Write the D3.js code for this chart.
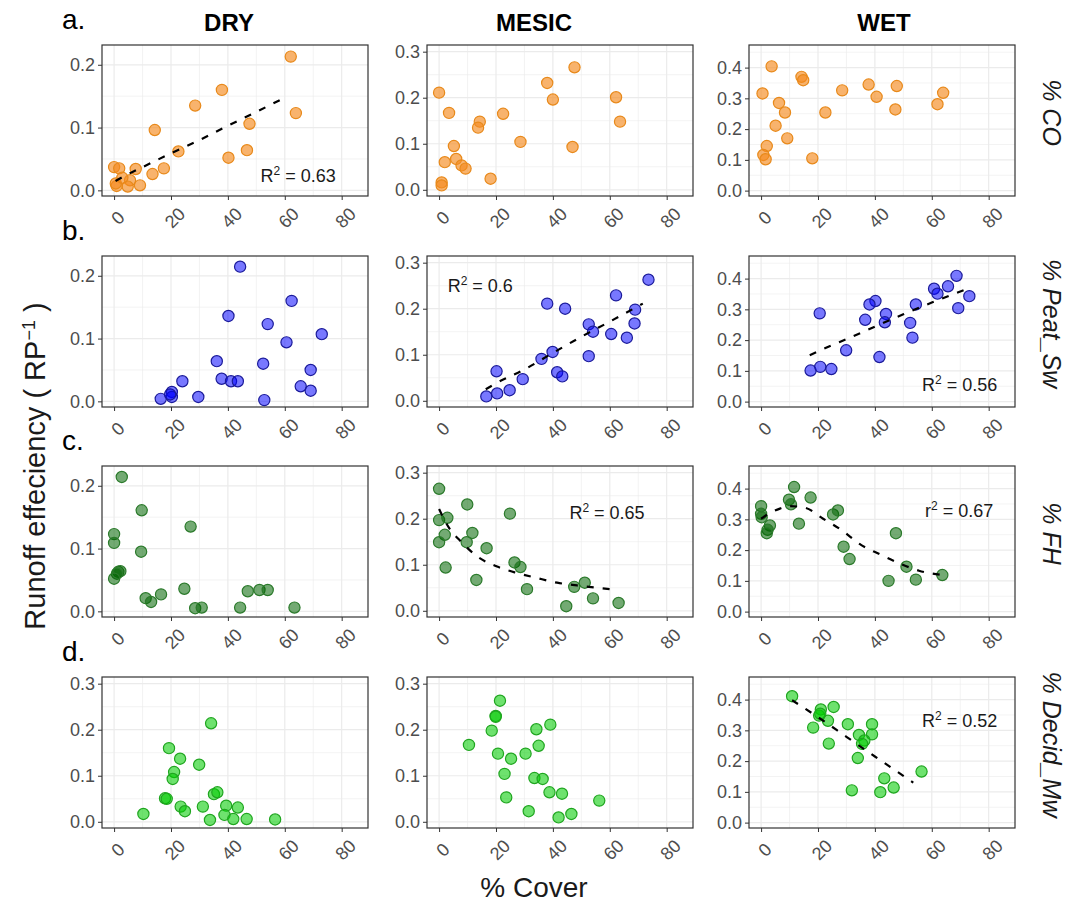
<!DOCTYPE html>
<html>
<head>
<meta charset="utf-8">
<script src="https://cdn.jsdelivr.net/npm/d3@7"></script>
<style>
  html, body { margin: 0; padding: 0; background: #fff; }
  svg { display: block; font-family: "Liberation Sans", Arial, sans-serif; }
</style>
</head>
<body>
<svg id="chart" width="1081" height="911"></svg>
<script>
// ---- data: x = % cover, y = runoff efficiency ----
const columns = ["DRY", "MESIC", "WET"];
const rowLetters = ["a.", "b.", "c.", "d."];
const rowLabels = ["% CO", "% Peat_Sw", "% FH", "% Decid_Mw"];
const xTicks = [0, 20, 40, 60, 80];
const xMinor = [10, 30, 50, 70];
const xLimits = [-4.25, 89.25];

// y-axis limits per panel [row][col]
const yLimits = [
  [[-0.009, 0.2315], [-0.0135, 0.3145], [-0.0175, 0.4735]],
  [[-0.009, 0.2315], [-0.0135, 0.3145], [-0.0175, 0.4735]],
  [[-0.009, 0.2315], [-0.0135, 0.3145], [-0.0175, 0.4735]],
  [[-0.0135, 0.3145], [-0.0135, 0.3145], [-0.0175, 0.4735]]
];
const yTicks = [0, 0.1, 0.2, 0.3, 0.4];
const yMinor = [0.05, 0.15, 0.25, 0.35, 0.45];

// row a: % CO
const coDry = [[62.1,0.213],[37.9,0.160],[28.5,0.135],[63.9,0.123],[14.3,0.096],[47.6,0.106],[46.7,0.064],[40.2,0.052],[22.6,0.062],[17.5,0.035],[13.5,0.026],[0,0.037],[1.8,0.035],[7.6,0.034],[5.6,0.016],[9.1,0.008],[4.8,0.006],[0.9,0.007],[0.6,0.011],[2.9,0.020]];
const coMesic = [[0,0.211],[3.5,0.167],[5.2,0.095],[2.0,0.060],[6.0,0.067],[7.9,0.053],[9.3,0.046],[0.9,0.016],[0.9,0.0095],[14.3,0.148],[13.7,0.135],[18.1,0.024],[22.5,0.165],[28.6,0.104],[38,0.232],[40,0.196],[47.6,0.266],[46.9,0.093],[62.2,0.201],[63.6,0.148]];
const coWet = [[3.7,0.404],[0.5,0.316],[6.3,0.285],[8.4,0.254],[5.1,0.211],[9.2,0.170],[2.0,0.145],[0.8,0.116],[1.6,0.102],[14.2,0.370],[14.8,0.359],[18,0.105],[22.6,0.254],[28.5,0.326],[37.8,0.345],[40.6,0.305],[47.7,0.340],[47.2,0.264],[62,0.281],[64,0.318]];

// row b: % Peat_Sw
const peatDry = [[44.3,0.2145],[62.4,0.160],[40.2,0.136],[54,0.123],[73,0.107],[60.6,0.094],[36.1,0.064],[52.4,0.060],[69.1,0.050],[37.8,0.036],[41.1,0.032],[43.5,0.032],[24,0.032],[65.6,0.024],[69.1,0.017],[29.6,0.007],[20.3,0.015],[20.3,0.007],[16.4,0.004],[52.8,0.002],[19.7,0.011]];
const peatMesic = [[73.6,0.263],[62.2,0.229],[38,0.211],[44.3,0.200],[68.9,0.198],[52.6,0.166],[54.1,0.150],[60.5,0.145],[68.7,0.168],[66,0.137],[39.9,0.106],[36,0.091],[52.6,0.097],[41.5,0.062],[43.3,0.053],[29.4,0.047],[20.2,0.064],[24.8,0.023],[20.4,0.016],[16.6,0.0095]];
const peatWet = [[68.7,0.409],[65.7,0.375],[60.8,0.367],[62,0.351],[73.2,0.343],[69.3,0.304],[54.4,0.316],[40.2,0.327],[38.1,0.316],[43.9,0.285],[43.5,0.258],[36.6,0.266],[52.4,0.256],[53.2,0.208],[41.6,0.145],[29.9,0.167],[20.6,0.287],[17.4,0.101],[20.8,0.113],[24.7,0.106]];

// row c: % FH
const fhDry = [[2.7,0.214],[9.7,0.161],[0,0.123],[0,0.109],[9.5,0.095],[1.5,0.063],[2.2,0.064],[1.0,0.060],[0,0.052],[26.9,0.135],[24.7,0.036],[11.1,0.021],[13,0.015],[16.5,0.027],[28.5,0.005],[30.8,0.006],[44.3,0.006],[47,0.032],[51.1,0.034],[54,0.034],[63.4,0.006]];
const fhMesic = [[0,0.265],[0,0.197],[2.9,0.202],[2.0,0.165],[0,0.149],[2.3,0.094],[9.9,0.231],[11.7,0.169],[9.7,0.149],[16.7,0.136],[13.1,0.067],[24.9,0.211],[26.5,0.105],[28.6,0.095],[30.9,0.047],[44.7,0.010],[47.5,0.052],[51.2,0.061],[54.1,0.027],[63.1,0.017]];
const fhWet = [[0,0.343],[0,0.318],[0.2,0.307],[3.1,0.280],[2.3,0.266],[2.0,0.255],[11.6,0.405],[9.8,0.364],[10.5,0.349],[17.4,0.371],[13.3,0.286],[25.3,0.316],[27,0.329],[29,0.211],[31.1,0.171],[47.4,0.255],[44.8,0.100],[51.1,0.146],[54.4,0.104],[63.7,0.119]];

// row d: % Decid_Mw
const decidDry = [[34.1,0.214],[19.3,0.160],[23.2,0.137],[29.9,0.124],[21.1,0.108],[20.6,0.093],[17.9,0.051],[18.5,0.050],[10.3,0.017],[23.4,0.033],[24.9,0.023],[31.2,0.033],[33.7,0.004],[35.1,0.060],[36.3,0.064],[39.4,0.035],[38.8,0.015],[41.9,0.006],[43.5,0.031],[46.6,0.006],[56.6,0.005]];
const decidMesic = [[21.4,0.263],[19.9,0.230],[19.9,0.228],[18.5,0.198],[10.5,0.167],[20.7,0.148],[25.3,0.137],[23,0.104],[23.6,0.053],[30.4,0.148],[31.5,0.023],[34.2,0.201],[35,0.165],[33.5,0.095],[36.4,0.093],[39.1,0.211],[38.8,0.064],[43.2,0.061],[42,0.0095],[46.5,0.017],[56.3,0.046]];
const decidWet = [[10.9,0.411],[25.5,0.376],[21,0.368],[20.4,0.348],[23.5,0.331],[18.3,0.309],[23.8,0.257],[30.5,0.320],[34.4,0.285],[39,0.320],[39,0.287],[36.3,0.267],[35.5,0.256],[34,0.210],[31.9,0.105],[43.3,0.144],[41.9,0.099],[46.6,0.114],[56.4,0.166],[20.8,0.354]];

// fitted trend curves
const coDryFit = [[0.5,0.015],[5,0.026],[10,0.037],[20,0.059],[30,0.080],[40,0.103],[50,0.125],[61,0.150]];
const peatMesicFit = [[16.4,0.025],[20,0.038],[30,0.068],[40,0.104],[50,0.139],[60,0.172],[71.6,0.211]];
const peatWetFit = [[17.1,0.151],[25,0.184],[30,0.203],[40,0.244],[50,0.284],[60,0.322],[72,0.365]];
const fhMesicFit = [[0,0.221],[3.5,0.180],[7.6,0.151],[13.4,0.118],[20.4,0.096],[27.4,0.082],[34.5,0.071],[41.5,0.061],[48.5,0.055],[55.5,0.050],[62.7,0.045]];
const fhWetFit = [[0,0.302],[3,0.320],[6.6,0.335],[10.1,0.343],[15.4,0.338],[21.8,0.302],[28.8,0.262],[34.6,0.220],[41.6,0.187],[48.6,0.157],[55.5,0.133],[63.7,0.119]];
const decidWetFit = [[10.9,0.398],[20,0.343],[30,0.279],[40,0.215],[50,0.152],[53.5,0.130]];

// fit statistics: [row, col, symbol, value, x, y]
const fitStats = [
  [0, 0, "R", "0.63", 51.5, 0.013],
  [1, 1, "R", "0.6", 3.0, 0.2355],
  [1, 2, "R", "0.56", 56.6, 0.036],
  [2, 1, "R", "0.65", 45.8, 0.200],
  [2, 2, "r", "0.67", 57.6, 0.309],
  [3, 2, "R", "0.52", 56.6, 0.3115]
];

const panelData = [
  [coDry, coMesic, coWet],
  [peatDry, peatMesic, peatWet],
  [fhDry, fhMesic, fhWet],
  [decidDry, decidMesic, decidWet]
];
const panelFits = [
  [coDryFit, null, null],
  [null, peatMesicFit, peatWetFit],
  [null, fhMesicFit, fhWetFit],
  [null, null, decidWetFit]
];

// point colours per row
const rowFill = ["#F58A1F", "#0000FF", "#006400", "#00CC00"];
const rowStroke = ["#E8891A", "#1A1A9A", "#2B7A2B", "#1FA51F"];
const rowOpacity = [0.65, 0.53, 0.55, 0.57];

// ---- layout ----
const colLeft = [102, 427, 749];
const panelW = 266;
const rowTop = [45, 256, 466, 677];
const panelH = 151;

const svg = d3.select("#chart");
const tickColor = "#4D4D4D";

columns.forEach((c, ci) => {
  svg.append("text")
    .attr("x", [229, 534, 884][ci]).attr("y", 31)
    .attr("text-anchor", "middle")
    .attr("font-weight", "bold").attr("font-size", 24)
    .attr("fill", "#000").text(c);
});

rowLetters.forEach((l, ri) => {
  svg.append("text")
    .attr("x", 62).attr("y", rowTop[ri] - 16)
    .attr("font-size", 28).attr("fill", "#000").text(l);
});

rowLabels.forEach((l, ri) => {
  const cy = rowTop[ri] + panelH / 2 - 8;
  svg.append("text")
    .attr("transform", `translate(1043,${cy}) rotate(90)`)
    .attr("text-anchor", "middle")
    .attr("font-style", "italic").attr("font-size", 25)
    .attr("fill", "#1A1A1A").text(l);
});

// y-axis title with superscript
const yTitle = svg.append("text")
  .attr("transform", "translate(45,466) rotate(-90)")
  .attr("text-anchor", "middle")
  .attr("font-size", 29).attr("fill", "#1A1A1A");
yTitle.append("tspan").text("Runoff effeciency  ( RP");
yTitle.append("tspan").attr("baseline-shift", "super").attr("font-size", 18).text("\u22121");
yTitle.append("tspan").text(" )");

svg.append("text")
  .attr("x", 534).attr("y", 897)
  .attr("text-anchor", "middle")
  .attr("font-size", 28).attr("fill", "#1A1A1A").text("% Cover");

panelData.forEach((rowArr, ri) => {
  rowArr.forEach((pts, ci) => {
    const x0 = colLeft[ci], y0 = rowTop[ri];
    const x = d3.scaleLinear().domain(xLimits).range([x0, x0 + panelW]);
    const yd = yLimits[ri][ci];
    const y = d3.scaleLinear().domain(yd).range([y0 + panelH, y0]);
    const g = svg.append("g");

    // background & grid
    g.append("rect").attr("x", x0).attr("y", y0).attr("width", panelW).attr("height", panelH).attr("fill", "#fff");
    const yMaj = yTicks.filter(v => v >= yd[0] && v <= yd[1]);
    const yMin = yMinor.filter(v => v >= yd[0] && v <= yd[1]);
    g.selectAll(".gxm").data(xMinor).join("line")
      .attr("x1", d => x(d)).attr("x2", d => x(d)).attr("y1", y0).attr("y2", y0 + panelH)
      .attr("stroke", "#EBEBEB").attr("stroke-width", 0.6);
    g.selectAll(".gym").data(yMin).join("line")
      .attr("y1", d => y(d)).attr("y2", d => y(d)).attr("x1", x0).attr("x2", x0 + panelW)
      .attr("stroke", "#EBEBEB").attr("stroke-width", 0.6);
    g.selectAll(".gx").data(xTicks).join("line")
      .attr("x1", d => x(d)).attr("x2", d => x(d)).attr("y1", y0).attr("y2", y0 + panelH)
      .attr("stroke", "#EBEBEB").attr("stroke-width", 1.2);
    g.selectAll(".gy").data(yMaj).join("line")
      .attr("y1", d => y(d)).attr("y2", d => y(d)).attr("x1", x0).attr("x2", x0 + panelW)
      .attr("stroke", "#EBEBEB").attr("stroke-width", 1.2);

    // axes
    const yAxis = d3.axisLeft(y).tickValues(yMaj).tickFormat(d3.format(".1f")).tickSize(4).tickPadding(3);
    const ya = g.append("g").attr("transform", `translate(${x0},0)`).call(yAxis);
    ya.select(".domain").remove();
    ya.selectAll("line").attr("stroke", "#333");
    ya.selectAll("text").attr("font-size", 18).attr("fill", tickColor).attr("font-family", "Liberation Sans, Arial, sans-serif");

    const xAxis = d3.axisBottom(x).tickValues(xTicks).tickSize(4).tickFormat("");
    const xa = g.append("g").attr("transform", `translate(0,${y0 + panelH})`).call(xAxis);
    xa.select(".domain").remove();
    xa.selectAll("line").attr("stroke", "#333");
    g.selectAll(".xl").data(xTicks).join("text")
      .attr("transform", d => `translate(${x(d) + 4},${y0 + panelH + 22}) rotate(-45)`)
      .attr("text-anchor", "middle").attr("dominant-baseline", "central")
      .attr("font-size", 18).attr("fill", tickColor).text(d => d);

    // points
    g.selectAll(".pt").data(pts).join("circle")
      .attr("cx", d => x(d[0])).attr("cy", d => y(d[1])).attr("r", 5.6)
      .attr("fill", rowFill[ri]).attr("fill-opacity", rowOpacity[ri])
      .attr("stroke", rowStroke[ri]).attr("stroke-width", 1.2);

    // trend curve
    const fit = panelFits[ri][ci];
    if (fit) {
      g.append("path").datum(fit)
        .attr("d", d3.line().x(d => x(d[0])).y(d => y(d[1])).curve(d3.curveMonotoneX))
        .attr("fill", "none").attr("stroke", "#000").attr("stroke-width", 2.2)
        .attr("stroke-dasharray", "7,9");
    }

    // panel border
    g.append("rect").attr("x", x0).attr("y", y0).attr("width", panelW).attr("height", panelH)
      .attr("fill", "none").attr("stroke", "#333").attr("stroke-width", 1.2);

    // fit statistic label
    fitStats.filter(s => s[0] === ri && s[1] === ci).forEach(s => {
      const t = g.append("text").attr("x", x(s[4])).attr("y", y(s[5]))
        .attr("font-size", 18).attr("fill", "#1A1A1A");
      t.append("tspan").text(s[2]);
      t.append("tspan").attr("baseline-shift", "super").attr("font-size", 12).text("2");
      t.append("tspan").text(" = " + s[3]);
    });
  });
});
</script>
</body>
</html>
